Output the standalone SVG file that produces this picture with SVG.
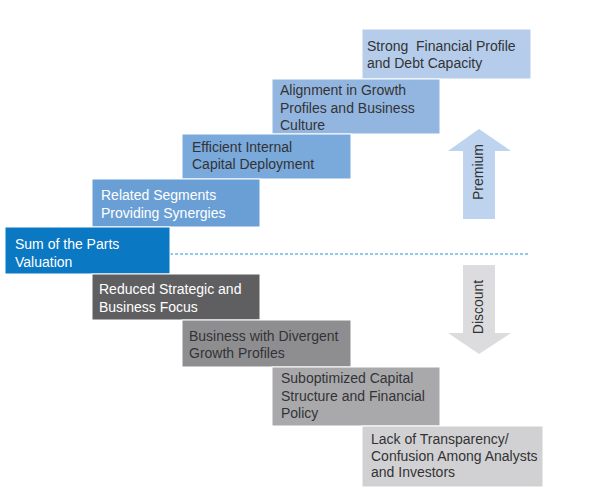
<svg xmlns="http://www.w3.org/2000/svg" width="600" height="496" viewBox="0 0 600 496">
<style>
text{font-family:"Liberation Sans",Arial,sans-serif;font-size:14px}
.d{fill:#333335}
.w{fill:#ffffff}
rect{stroke:#ffffff;stroke-width:1}
</style>
<rect x="0" y="0" width="600" height="496" fill="#ffffff" stroke="none"/>
<g id="connectors">
<line x1="170" y1="254" x2="530" y2="254" stroke="#1f98d4" stroke-width="1" stroke-dasharray="3,2"/>
<polygon id="premium-arrow" points="463,219 463,151 448,151 479,129 511,151 495,151 495,219" fill="#bdd3ee"/>
<polygon id="discount-arrow" points="463,265 495,265 495,333 511,333 479,354 448,333 463,333" fill="#dcdcde"/>
</g>
<g id="premium"><text class="d" transform="translate(483,172) rotate(-90)" text-anchor="middle">Premium</text></g>
<g id="discount"><text class="d" transform="translate(483,307) rotate(-90)" text-anchor="middle">Discount</text></g>
<g id="strong">
<rect x="362" y="29" width="169" height="50" fill="#b5cdea"/>
<text class="d" x="367" y="51">Strong&#160; Financial Profile</text>
<text class="d" x="367" y="68">and Debt Capacity</text>
</g>
<g id="alignment">
<rect x="272" y="79" width="168" height="55" fill="#93b6e0"/>
<text class="d" x="280" y="95">Alignment in Growth</text>
<text class="d" x="280" y="113">Profiles and Business</text>
<text class="d" x="280" y="130">Culture</text>
</g>
<g id="efficient">
<rect x="182" y="134" width="169" height="45" fill="#7aa9dc"/>
<text class="d" x="192" y="152">Efficient Internal</text>
<text class="d" x="192" y="169">Capital Deployment</text>
</g>
<g id="related">
<rect x="92" y="179" width="168" height="48" fill="#6a9fd6"/>
<text class="w" x="101" y="200">Related Segments</text>
<text class="w" x="101" y="218">Providing Synergies</text>
</g>
<g id="sum">
<rect x="5" y="227" width="165" height="47" fill="#0a78c2"/>
<text class="w" x="15" y="249">Sum of the Parts</text>
<text class="w" x="15" y="267">Valuation</text>
</g>
<g id="reduced">
<rect x="92" y="274" width="168" height="46" fill="#5f5f61"/>
<text class="w" x="99" y="294">Reduced Strategic and</text>
<text class="w" x="99" y="312">Business Focus</text>
</g>
<g id="divergent">
<rect x="182" y="320" width="169" height="47" fill="#8e8e91"/>
<text class="d" x="189" y="341">Business with Divergent</text>
<text class="d" x="189" y="358">Growth Profiles</text>
</g>
<g id="suboptimized">
<rect x="272" y="367" width="168" height="59" fill="#a9a9ac"/>
<text class="d" x="281" y="383">Suboptimized Capital</text>
<text class="d" x="281" y="401">Structure and Financial</text>
<text class="d" x="281" y="418">Policy</text>
</g>
<g id="transparency">
<rect x="362" y="426" width="181" height="61" fill="#d1d1d3"/>
<text class="d" x="371" y="444">Lack of Transparency/</text>
<text class="d" x="371" y="461">Confusion Among Analysts</text>
<text class="d" x="371" y="477">and Investors</text>
</g>
</svg>
